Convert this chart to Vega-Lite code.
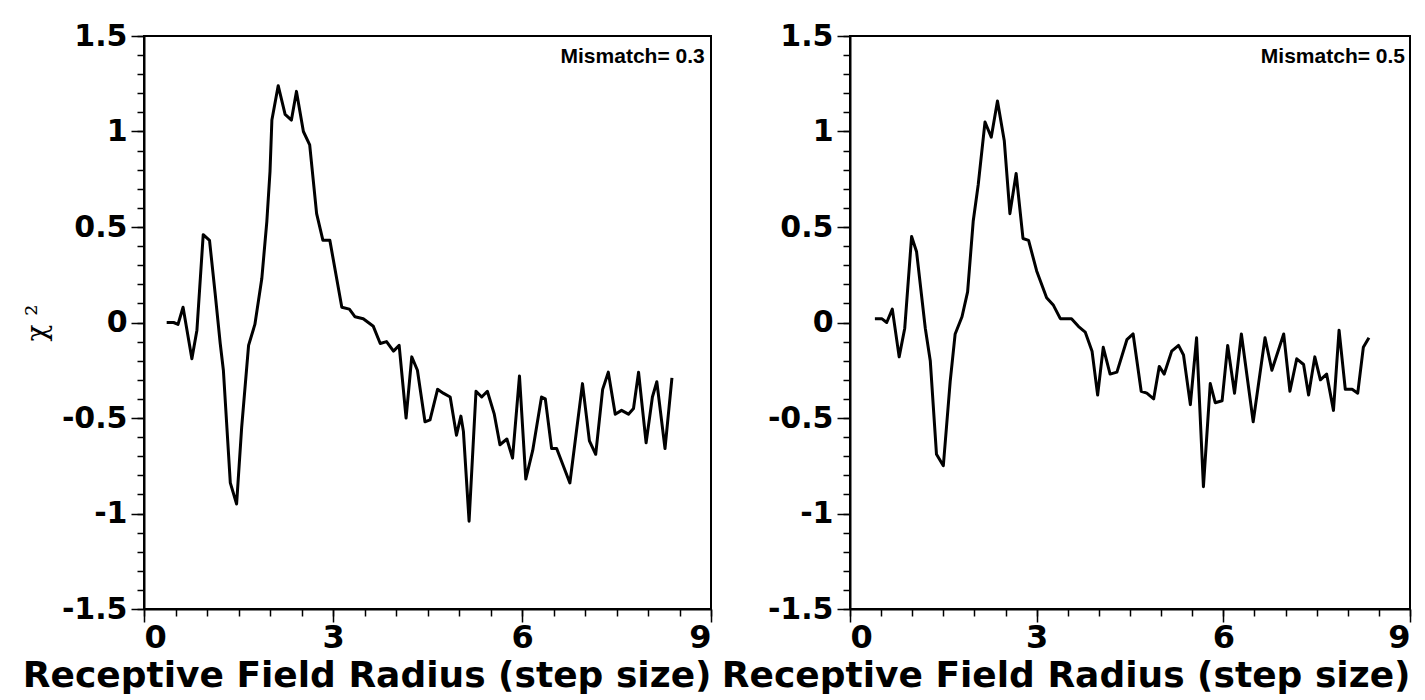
{
  "$schema": "https://vega.github.io/schema/vega-lite/v6.json",
  "background": "white",
  "padding": {"left": 21, "top": 20, "right": 2, "bottom": 0},
  "spacing": 139,
  "bounds": "flush",
  "datasets": {
    "m03": [
      {"r":0.36,"chi2":0.00},{"r":0.47,"chi2":0.00},{"r":0.54,"chi2":-0.01},{"r":0.62,"chi2":0.08},{"r":0.76,"chi2":-0.19},{"r":0.84,"chi2":-0.04},{"r":0.94,"chi2":0.46},{"r":1.04,"chi2":0.43},{"r":1.13,"chi2":0.15},{"r":1.21,"chi2":-0.11},{"r":1.26,"chi2":-0.25},{"r":1.37,"chi2":-0.84},{"r":1.47,"chi2":-0.95},{"r":1.55,"chi2":-0.55},{"r":1.66,"chi2":-0.12},{"r":1.76,"chi2":-0.01},{"r":1.87,"chi2":0.23},{"r":1.95,"chi2":0.53},{"r":2.00,"chi2":0.79},{"r":2.03,"chi2":1.06},{"r":2.13,"chi2":1.24},{"r":2.24,"chi2":1.09},{"r":2.34,"chi2":1.06},{"r":2.42,"chi2":1.21},{"r":2.53,"chi2":1.00},{"r":2.63,"chi2":0.93},{"r":2.74,"chi2":0.57},{"r":2.84,"chi2":0.43},{"r":2.95,"chi2":0.43},{"r":3.14,"chi2":0.08},{"r":3.26,"chi2":0.07},{"r":3.35,"chi2":0.03},{"r":3.48,"chi2":0.02},{"r":3.64,"chi2":-0.02},{"r":3.75,"chi2":-0.11},{"r":3.85,"chi2":-0.10},{"r":3.96,"chi2":-0.15},{"r":4.05,"chi2":-0.12},{"r":4.16,"chi2":-0.50},{"r":4.25,"chi2":-0.18},{"r":4.34,"chi2":-0.25},{"r":4.46,"chi2":-0.52},{"r":4.54,"chi2":-0.51},{"r":4.66,"chi2":-0.35},{"r":4.75,"chi2":-0.37},{"r":4.86,"chi2":-0.39},{"r":4.96,"chi2":-0.59},{"r":5.03,"chi2":-0.49},{"r":5.07,"chi2":-0.57},{"r":5.16,"chi2":-1.04},{"r":5.27,"chi2":-0.36},{"r":5.36,"chi2":-0.39},{"r":5.45,"chi2":-0.36},{"r":5.56,"chi2":-0.48},{"r":5.65,"chi2":-0.64},{"r":5.76,"chi2":-0.61},{"r":5.85,"chi2":-0.71},{"r":5.96,"chi2":-0.28},{"r":6.06,"chi2":-0.82},{"r":6.17,"chi2":-0.67},{"r":6.31,"chi2":-0.39},{"r":6.37,"chi2":-0.40},{"r":6.47,"chi2":-0.66},{"r":6.55,"chi2":-0.66},{"r":6.76,"chi2":-0.84},{"r":6.96,"chi2":-0.32},{"r":7.07,"chi2":-0.62},{"r":7.17,"chi2":-0.69},{"r":7.28,"chi2":-0.35},{"r":7.37,"chi2":-0.26},{"r":7.48,"chi2":-0.48},{"r":7.58,"chi2":-0.46},{"r":7.69,"chi2":-0.48},{"r":7.77,"chi2":-0.45},{"r":7.85,"chi2":-0.26},{"r":7.97,"chi2":-0.63},{"r":8.07,"chi2":-0.39},{"r":8.14,"chi2":-0.31},{"r":8.27,"chi2":-0.66},{"r":8.38,"chi2":-0.29}
    ],
    "m05": [
      {"r":0.40,"chi2":0.02},{"r":0.51,"chi2":0.02},{"r":0.59,"chi2":0.00},{"r":0.68,"chi2":0.07},{"r":0.79,"chi2":-0.18},{"r":0.88,"chi2":-0.03},{"r":0.99,"chi2":0.45},{"r":1.07,"chi2":0.37},{"r":1.21,"chi2":-0.03},{"r":1.29,"chi2":-0.20},{"r":1.39,"chi2":-0.69},{"r":1.50,"chi2":-0.75},{"r":1.61,"chi2":-0.31},{"r":1.69,"chi2":-0.06},{"r":1.80,"chi2":0.03},{"r":1.89,"chi2":0.16},{"r":1.98,"chi2":0.53},{"r":2.06,"chi2":0.72},{"r":2.17,"chi2":1.05},{"r":2.27,"chi2":0.97},{"r":2.37,"chi2":1.16},{"r":2.48,"chi2":0.95},{"r":2.57,"chi2":0.57},{"r":2.67,"chi2":0.78},{"r":2.78,"chi2":0.44},{"r":2.87,"chi2":0.43},{"r":3.00,"chi2":0.27},{"r":3.16,"chi2":0.13},{"r":3.27,"chi2":0.09},{"r":3.38,"chi2":0.02},{"r":3.56,"chi2":0.02},{"r":3.67,"chi2":-0.02},{"r":3.78,"chi2":-0.05},{"r":3.89,"chi2":-0.15},{"r":3.98,"chi2":-0.38},{"r":4.07,"chi2":-0.13},{"r":4.18,"chi2":-0.27},{"r":4.29,"chi2":-0.26},{"r":4.45,"chi2":-0.09},{"r":4.55,"chi2":-0.06},{"r":4.68,"chi2":-0.36},{"r":4.77,"chi2":-0.37},{"r":4.88,"chi2":-0.40},{"r":4.97,"chi2":-0.23},{"r":5.05,"chi2":-0.27},{"r":5.17,"chi2":-0.15},{"r":5.28,"chi2":-0.12},{"r":5.36,"chi2":-0.17},{"r":5.47,"chi2":-0.43},{"r":5.57,"chi2":-0.08},{"r":5.68,"chi2":-0.86},{"r":5.79,"chi2":-0.32},{"r":5.87,"chi2":-0.42},{"r":5.98,"chi2":-0.41},{"r":6.07,"chi2":-0.12},{"r":6.18,"chi2":-0.37},{"r":6.29,"chi2":-0.06},{"r":6.48,"chi2":-0.52},{"r":6.67,"chi2":-0.08},{"r":6.78,"chi2":-0.25},{"r":6.97,"chi2":-0.06},{"r":7.07,"chi2":-0.36},{"r":7.18,"chi2":-0.19},{"r":7.29,"chi2":-0.22},{"r":7.37,"chi2":-0.38},{"r":7.47,"chi2":-0.18},{"r":7.56,"chi2":-0.30},{"r":7.66,"chi2":-0.27},{"r":7.77,"chi2":-0.46},{"r":7.86,"chi2":-0.04},{"r":7.96,"chi2":-0.35},{"r":8.07,"chi2":-0.35},{"r":8.16,"chi2":-0.37},{"r":8.25,"chi2":-0.13},{"r":8.34,"chi2":-0.08}
    ]
  },
  "hconcat": [
    {
      "width": 567,
      "height": 573,
      "layer": [
        {
          "data": {"name": "m03"},
          "mark": {"type": "line", "color": "black", "strokeWidth": 3, "strokeJoin": "round"},
          "encoding": {
            "x": {"field": "r", "type": "quantitative", "scale": {"domain": [0, 9], "nice": false, "zero": false},
                  "axis": {"orient": "bottom", "values": [0, 3, 6, 9], "tickSize": 13, "labelPadding": 0, "labelFontSize": 32, "title": "Receptive Field Radius (step size)", "titleAnchor": "end", "titlePadding": 5}},
            "y": {"field": "chi2", "type": "quantitative", "scale": {"domain": [-1.5, 1.5], "nice": false, "zero": false},
                  "axis": {"orient": "left", "values": [-1.5, -1, -0.5, 0, 0.5, 1, 1.5], "format": "~g", "tickSize": 13, "labelPadding": 4, "labelExpr": "replace(datum.label, '−', '-')", "title": "χ ²", "titleFont": "DejaVu Serif", "titleFontWeight": "normal", "titleFontSize": 28, "titlePadding": 10}}
          }
        },
        {
          "data": {"values": [{}]},
          "mark": {"type": "text", "align": "right", "baseline": "middle", "font": "Liberation Sans", "fontWeight": "bold", "fontSize": 21, "color": "black"},
          "encoding": {
            "x": {"datum": 8.9, "type": "quantitative", "scale": {"domain": [0, 9], "nice": false, "zero": false},
                  "axis": {"orient": "bottom", "values": [0,0.5,1,1.5,2,2.5,3,3.5,4,4.5,5,5.5,6,6.5,7,7.5,8,8.5,9], "tickSize": 7, "labels": false, "domain": false, "title": null}},
            "y": {"datum": 1.39, "type": "quantitative", "scale": {"domain": [-1.5, 1.5], "nice": false, "zero": false},
                  "axis": {"orient": "left", "values": [-1.5,-1.4,-1.3,-1.2,-1.1,-1,-0.9,-0.8,-0.7,-0.6,-0.5,-0.4,-0.3,-0.2,-0.1,0,0.1,0.2,0.3,0.4,0.5,0.6,0.7,0.8,0.9,1,1.1,1.2,1.3,1.4,1.5], "tickSize": 7, "labels": false, "domain": false, "title": null}},
            "text": {"value": "Mismatch= 0.3"}
          }
        }
      ],
      "resolve": {"axis": {"x": "independent", "y": "independent"}}
    },
    {
      "width": 560,
      "height": 573,
      "layer": [
        {
          "data": {"name": "m05"},
          "mark": {"type": "line", "color": "black", "strokeWidth": 3, "strokeJoin": "round"},
          "encoding": {
            "x": {"field": "r", "type": "quantitative", "scale": {"domain": [0, 9], "nice": false, "zero": false},
                  "axis": {"orient": "bottom", "values": [0, 3, 6, 9], "tickSize": 13, "labelPadding": 0, "labelFontSize": 32, "title": "Receptive Field Radius (step size)", "titleAnchor": "end", "titlePadding": 5}},
            "y": {"field": "chi2", "type": "quantitative", "scale": {"domain": [-1.5, 1.5], "nice": false, "zero": false},
                  "axis": {"orient": "left", "values": [-1.5, -1, -0.5, 0, 0.5, 1, 1.5], "format": "~g", "tickSize": 13, "labelPadding": 4, "labelExpr": "replace(datum.label, '−', '-')", "title": null}}
          }
        },
        {
          "data": {"values": [{}]},
          "mark": {"type": "text", "align": "right", "baseline": "middle", "font": "Liberation Sans", "fontWeight": "bold", "fontSize": 21, "color": "black"},
          "encoding": {
            "x": {"datum": 8.92, "type": "quantitative", "scale": {"domain": [0, 9], "nice": false, "zero": false},
                  "axis": {"orient": "bottom", "values": [0,0.5,1,1.5,2,2.5,3,3.5,4,4.5,5,5.5,6,6.5,7,7.5,8,8.5,9], "tickSize": 7, "labels": false, "domain": false, "title": null}},
            "y": {"datum": 1.39, "type": "quantitative", "scale": {"domain": [-1.5, 1.5], "nice": false, "zero": false},
                  "axis": {"orient": "left", "values": [-1.5,-1.4,-1.3,-1.2,-1.1,-1,-0.9,-0.8,-0.7,-0.6,-0.5,-0.4,-0.3,-0.2,-0.1,0,0.1,0.2,0.3,0.4,0.5,0.6,0.7,0.8,0.9,1,1.1,1.2,1.3,1.4,1.5], "tickSize": 7, "labels": false, "domain": false, "title": null}},
            "text": {"value": "Mismatch= 0.5"}
          }
        }
      ],
      "resolve": {"axis": {"x": "independent", "y": "independent"}}
    }
  ],
  "config": {
    "view": {"stroke": "black", "strokeWidth": 2},
    "axis": {
      "grid": false,
      "domainColor": "black",
      "domainWidth": 2,
      "tickColor": "black",
      "tickWidth": 1.5,
      "labelColor": "black",
      "titleColor": "black",
      "labelFont": "DejaVu Sans",
      "labelFontWeight": "bold",
      "labelFontSize": 30,
      "titleFont": "DejaVu Sans",
      "titleFontWeight": "bold",
      "titleFontSize": 36
    }
  }
}
